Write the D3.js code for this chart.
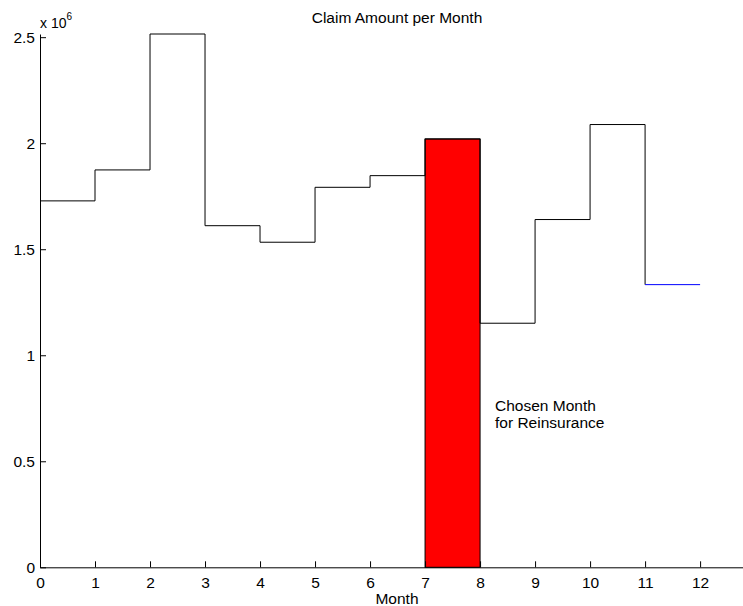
<!DOCTYPE html>
<html>
<head>
<meta charset="utf-8">
<script src="https://cdn.jsdelivr.net/npm/d3@7"></script>
<style>
  body { margin: 0; background: #fff; }
  text { font-family: "Liberation Sans", Arial, sans-serif; }
</style>
</head>
<body>
<svg id="chart"></svg>
<script>
var width = 743;
var height = 606;

// claim amounts (x 10^6) for month bins starting at 0..11
var monthStarts = [0, 1, 2, 3, 4, 5, 6, 7, 8, 9, 10, 11];
var claims = [1.728, 1.874, 2.515, 1.611, 1.533, 1.792, 1.847, 2.020, 1.151, 1.640, 2.088, 1.333];
var chosenMonth = 7;
var xTicks = [0, 1, 2, 3, 4, 5, 6, 7, 8, 9, 10, 11, 12];
var yTicks = [0, 0.5, 1, 1.5, 2, 2.5];

var left = 40;
var bottom = 567.3;
var fontSize = "15.5px";

var svg = d3.select("#chart")
  .attr("width", width)
  .attr("height", height);

var x = d3.scaleLinear()
  .domain([0, 12.78])
  .range([left, width]);

var y = d3.scaleLinear()
  .domain([0, 2.515])
  .range([bottom, 34]);

// red bar for the chosen month
svg.append("rect")
  .attr("x", x(chosenMonth))
  .attr("y", y(claims[chosenMonth]))
  .attr("width", x(chosenMonth + 1) - x(chosenMonth))
  .attr("height", y(0) - y(claims[chosenMonth]))
  .attr("fill", "#ff0000")
  .attr("stroke", "black")
  .attr("stroke-width", 1);

// black stair line, months 0..10, ends with the drop at 11
var pts = monthStarts.map(function(m, i) { return [m, claims[i]]; });
var stair = d3.line()
  .x(function(d) { return x(d[0]); })
  .y(function(d) { return y(d[1]); })
  .curve(d3.curveStepAfter);

svg.append("path")
  .attr("d", stair(pts))
  .attr("fill", "none")
  .attr("stroke", "black")
  .attr("stroke-width", 1);

// last month in blue
var last = claims.length - 1;
svg.append("line")
  .attr("x1", x(monthStarts[last]))
  .attr("y1", y(claims[last]))
  .attr("x2", x(monthStarts[last] + 1))
  .attr("y2", y(claims[last]))
  .attr("stroke", "#0000ff")
  .attr("stroke-width", 1);

// x-axis
var xAxis = svg.append("g")
  .attr("transform", "translate(0," + bottom + ")")
  .call(d3.axisBottom(x).tickValues(xTicks).tickFormat(d3.format("d"))
    .tickSizeInner(-6).tickSizeOuter(0).tickPadding(10));

// y-axis
var yAxis = svg.append("g")
  .attr("transform", "translate(" + left + ",0)")
  .call(d3.axisLeft(y).tickValues(yTicks).tickFormat(function(d) { return d; })
    .tickSizeInner(-6).tickSizeOuter(0).tickPadding(5));

[xAxis, yAxis].forEach(function(ax) {
  ax.select(".domain").attr("stroke", "black");
  ax.selectAll(".tick line").attr("stroke", "black");
  ax.selectAll(".tick text")
    .attr("fill", "black")
    .style("font-size", fontSize)
    .style("font-family", "'Liberation Sans', Arial, sans-serif");
});

// exponent label
var expo = svg.append("text")
  .attr("x", 40)
  .attr("y", 28)
  .style("font-size", "14px");
expo.append("tspan").text("x 10");
expo.append("tspan")
  .attr("dy", -8)
  .style("font-size", "10px")
  .text("6");

svg.append("text")
  .attr("x", 397)
  .attr("y", 23)
  .attr("text-anchor", "middle")
  .style("font-size", fontSize)
  .text("Claim Amount per Month");

svg.append("text")
  .attr("x", 397)
  .attr("y", 604)
  .attr("text-anchor", "middle")
  .style("font-size", fontSize)
  .text("Month");

svg.append("text")
  .attr("x", 495)
  .attr("y", 411)
  .style("font-size", fontSize)
  .text("Chosen Month");

svg.append("text")
  .attr("x", 495)
  .attr("y", 428)
  .style("font-size", fontSize)
  .text("for Reinsurance");
</script>
</body>
</html>
